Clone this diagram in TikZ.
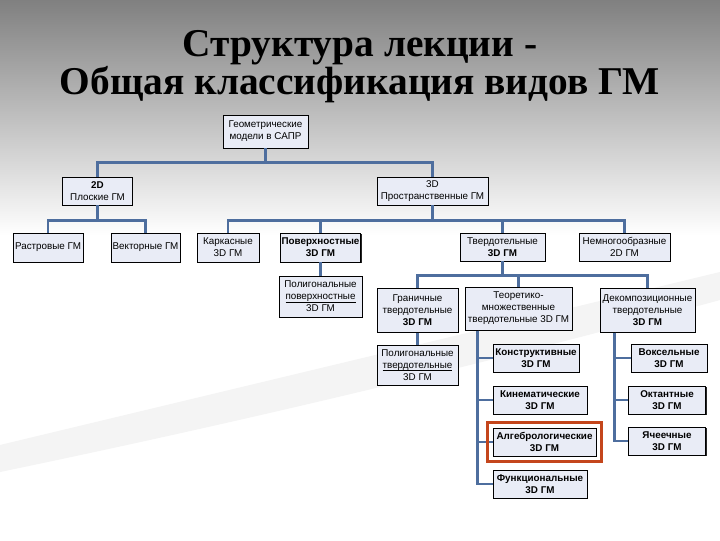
\documentclass[tikz,border=0pt]{standalone}
\usepackage{fontspec}
\setmainfont{Liberation Serif}
\newfontfamily\boxfont{Liberation Sans}
\newcommand\uln[1]{\underline{\smash{#1}}}
\usepackage{tikz}
\usetikzlibrary{positioning,calc,fit,shadows}
\definecolor{boxfill}{RGB}{233,236,246}
\definecolor{linkblue}{RGB}{78,110,158}
\definecolor{markred}{RGB}{196,70,28}
\tikzset{
  sz/.style 2 args={minimum width=#1*0.025cm, minimum height=#2*0.025cm},
  box/.style={draw=black, line width=0.7pt, fill=boxfill, align=center,
              inner sep=1pt, font=\boxfont\fontsize{7}{8.5}\selectfont,
              drop shadow={shadow xshift=0.7pt, shadow yshift=-0.7pt,
                           fill=black, opacity=0.85}},
  link/.style={draw=linkblue, line width=1.8pt},
  markframe/.style={draw=markred, line width=2.6pt, inner sep=3.6pt}
}
\begin{document}
\begin{tikzpicture}[x=0.025cm, y=-0.025cm]
  \useasboundingbox (0,0) rectangle (720,540);
  % background
  \fill[white] (0,0) rectangle (720,540);
  \shade[top color={rgb,255:red,128;green,128;blue,128}, bottom color=white]
    (0,0) rectangle (720,235);
  \fill[gray!9] (0,445) .. controls (250,385) and (480,330) .. (720,272)
    -- (720,300) .. controls (480,365) and (250,420) .. (0,472) -- cycle;
  \node[font=\bfseries\fontsize{28}{25}\selectfont, align=center] (title)
    at (360,67) {Структура лекции -\\Общая классификация видов ГМ};

  % level 0--2
  \node[box, sz={85}{33}] (root) at (265.5,131.5) {Геометрические\\модели в САПР};
  \node[box, sz={70}{28}] (d2) at (97.5,191) {\textbf{2D}\\Плоские ГМ};
  \node[box, sz={111}{28}] (d3) at (432.5,191) {3D\\Пространственные ГМ};

  % level 3
  \node[box, sz={70}{29}] (rast) at (48,247.5) {Растровые ГМ};
  \node[box, sz={69}{29}] (vect) at (145.5,247.5) {Векторные ГМ};
  \node[box, sz={62}{29}] (kark) at (228,247.5) {Каркасные\\3D ГМ};
  \node[box, sz={80}{29}, font=\boxfont\bfseries\fontsize{7}{8.5}\selectfont]
    (poverh) at (320.5,247.5) {Поверхностные\\3D ГМ};
  \node[box, sz={85}{28}] (tverd) at (502.5,247) {Твердотельные\\\textbf{3D ГМ}};
  \node[box, sz={91}{28}] (nemn) at (624.5,247) {Немногообразные\\2D ГМ};

  % level 4
  \node[box, sz={83}{41}] (polpov) at (320.5,296.5)
    {Полигональные\\\uln{поверхностные}\\3D ГМ};
  \node[box, sz={81}{44}] (gran) at (417.5,310)
    {Граничные\\твердотельные\\\textbf{3D ГМ}};
  \node[box, sz={107}{43}] (teor) at (518.5,308.5)
    {Теоретико-\\множественные\\твердотельные 3D ГМ};
  \node[box, sz={95}{44}] (decomp) at (647.5,310)
    {Декомпозиционные\\твердотельные\\\textbf{3D ГМ}};
  \node[box, sz={81}{40}] (polvt) at (417.5,365)
    {Полигональные\\\uln{твердотельные}\\3D ГМ};

  % leaves
  \foreach \n/\x/\y/\w/\t in {konstr/536/358/86/Конструктивные,
      kinem/540/400/94/Кинематические, algeb/544.5/442/103/Алгебрологические,
      funk/540/484/94/Функциональные, voks/669/358/76/Воксельные,
      okt/667/400/77/Октантные, yach/667/441/77/Ячеечные}
    \node[box, sz={\w}{28}, font=\boxfont\bfseries\fontsize{7}{8.5}\selectfont]
      (\n) at (\x,\y) {\t\\3D ГМ};

  % connectors
  \foreach \m in {d2,d3} \draw[link] (root.south) -- ++(0,14) -| (\m.north);
  \foreach \m in {rast,vect} \draw[link] (d2.south) -- ++(0,15) -| (\m.north);
  \foreach \m in {kark,poverh,tverd,nemn}
    \draw[link] (d3.south) -- ++(0,15) -| (\m.north);
  \foreach \m in {gran,teor,decomp}
    \draw[link] (tverd.south) -- ++(0,14) -| (\m.north);
  \draw[link] (poverh) -- (polpov);
  \draw[link] (gran) -- (polvt);
  \path (teor.south west) ++(13,0) coordinate (tt);
  \foreach \m in {konstr,kinem,algeb,funk} \draw[link] (tt) |- (\m.west);
  \path (decomp.south west) ++(15,0) coordinate (dd);
  \foreach \m in {voks,okt,yach} \draw[link] (dd) |- (\m.west);

  \node[markframe, fit=(algeb)] (mark) {};
\end{tikzpicture}
\end{document}
